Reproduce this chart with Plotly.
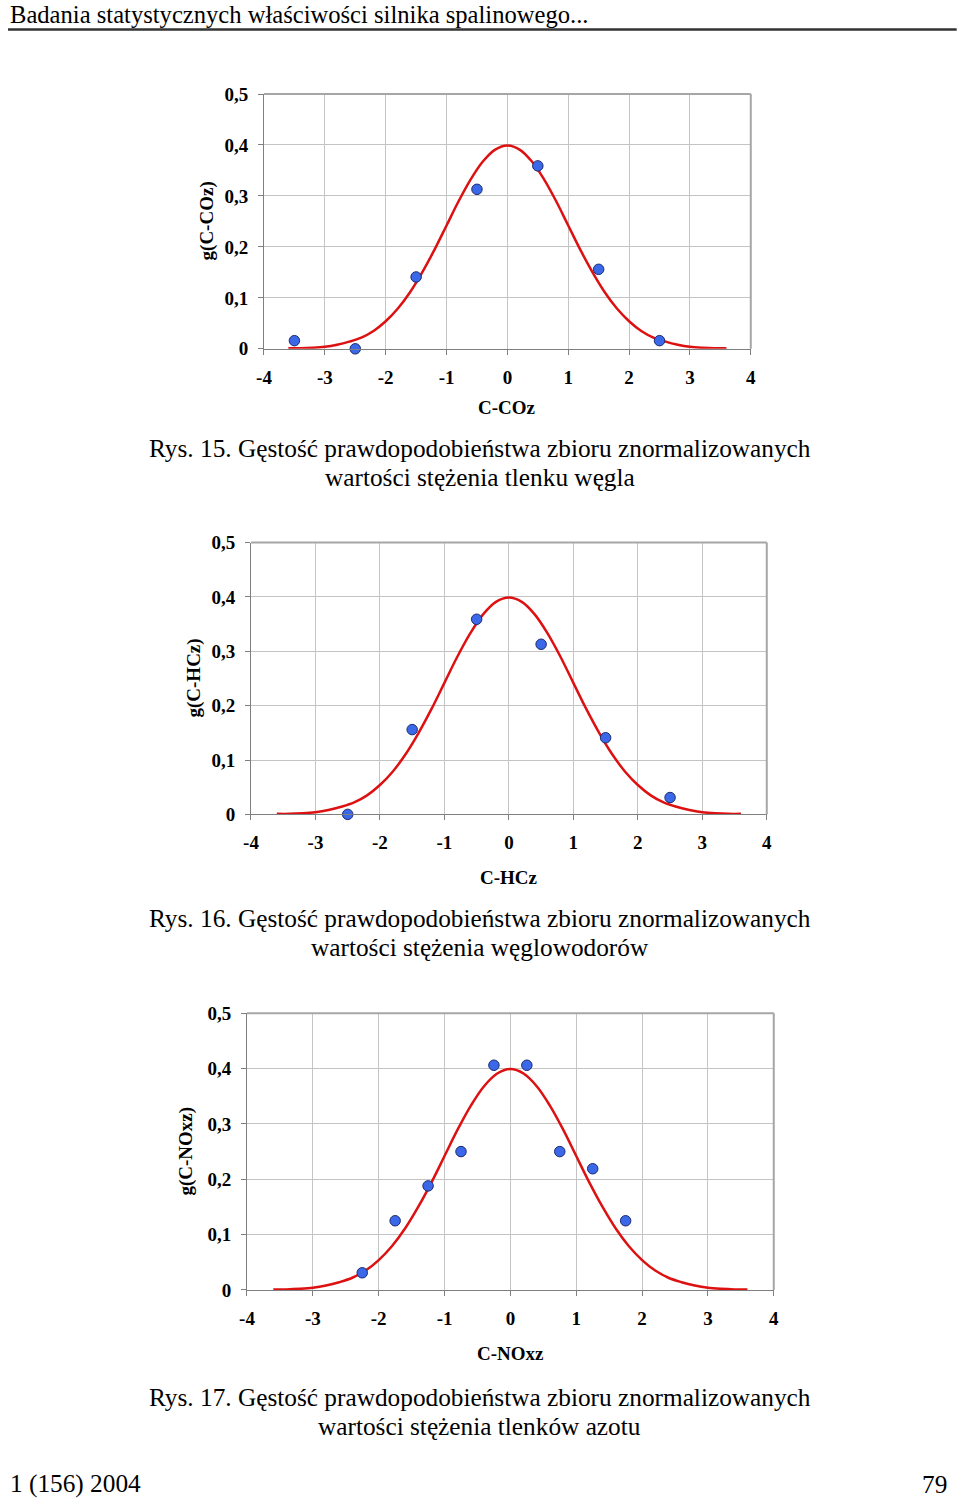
import plotly.graph_objects as go

# Page geometry: the rendered page shows the figure after an 8px body margin and
# a slight uniform down-scale, so reference pixel positions are mapped through that.
S, M = 0.987, 8
W, H = 968, 1512

# ---------------- data ----------------
# fitted standard-normal density curve (same in all three panels)
curve_x = [-3.6, -3.4, -3.2, -3.0, -2.8, -2.6, -2.4, -2.2, -2.0, -1.8, -1.6, -1.4, -1.2, -1.0,
           -0.8, -0.6, -0.4, -0.2, 0.0, 0.2, 0.4, 0.6, 0.8, 1.0, 1.2, 1.4, 1.6, 1.8, 2.0,
           2.2, 2.4, 2.6, 2.8, 3.0, 3.2, 3.4, 3.6]
curve_y = [0.001, 0.001, 0.002, 0.004, 0.008, 0.014, 0.022, 0.035, 0.054, 0.079, 0.111, 0.150,
           0.194, 0.242, 0.290, 0.333, 0.368, 0.391, 0.399, 0.391, 0.368, 0.333, 0.290, 0.242,
           0.194, 0.150, 0.111, 0.079, 0.054, 0.035, 0.022, 0.014, 0.008, 0.004, 0.002, 0.001,
           0.001]

# Rys. 15 – C-COz
co_x = [-3.5, -2.5, -1.5, -0.5, 0.5, 1.5, 2.5]
co_y = [0.016, 0.0, 0.141, 0.313, 0.359, 0.156, 0.016]

# Rys. 16 – C-HCz
hc_x = [-2.5, -1.5, -0.5, 0.5, 1.5, 2.5]
hc_y = [0.0, 0.156, 0.359, 0.313, 0.141, 0.031]

# Rys. 17 – C-NOxz
nox_x = [-2.25, -1.75, -1.25, -0.75, -0.25, 0.25, 0.75, 1.25, 1.75]
nox_y = [0.031, 0.125, 0.188, 0.250, 0.406, 0.406, 0.250, 0.219, 0.125]

x_tickvals = [-4, -3, -2, -1, 0, 1, 2, 3, 4]
x_ticktext = ["-4", "-3", "-2", "-1", "0", "1", "2", "3", "4"]
y_tickvals = [0, 0.1, 0.2, 0.3, 0.4, 0.5]
y_ticktext = ["0", "0,1", "0,2", "0,3", "0,4", "0,5"]

panels = [
    dict(x=co_x, y=co_y, xlabel="C-COz", ylabel="g(C-COz)",
         cap1="Rys. 15. Gęstość prawdopodobieństwa zbioru znormalizowanych",
         cap2="wartości stężenia tlenku węgla"),
    dict(x=hc_x, y=hc_y, xlabel="C-HCz", ylabel="g(C-HCz)",
         cap1="Rys. 16. Gęstość prawdopodobieństwa zbioru znormalizowanych",
         cap2="wartości stężenia węglowodorów"),
    dict(x=nox_x, y=nox_y, xlabel="C-NOxz", ylabel="g(C-NOxz)",
         cap1="Rys. 17. Gęstość prawdopodobieństwa zbioru znormalizowanych",
         cap2="wartości stężenia tlenków azotu"),
]

# ---------------- layout geometry (reference page pixels) ----------------
boxes = [  # left, right, top, bottom
    (264, 751, 92, 347),
    (251, 767, 541, 813),
    (247, 774, 1012, 1289),
]
ylabel_x = [207, 193, 186]
xlabel_y = [406, 876, 1353]
cap_y = [(446, 475), (917, 946), (1396, 1425)]

def px(x):
    return min(1.0, max(0.0, (x / S - M) / W))

def py(y):
    return min(1.0, max(0.0, 1 - (y / S - M) / H))

SERIF = "Liberation Serif, Times New Roman, serif"
RED = "#dd1111"
BLUE = "#3a68e8"
GRID = "#c4c4c4"
AXIS = "#7f7f7f"
TXT = 25.3

fig = go.Figure()
annotations = []
shapes = []

for i, (p, b) in enumerate(zip(panels, boxes)):
    n = "" if i == 0 else str(i + 1)
    xa, ya = "x" + n, "y" + n
    fig.add_trace(go.Scatter(x=curve_x, y=curve_y, mode="lines",
                             line=dict(color=RED, width=2.5, shape="spline"),
                             xaxis=xa, yaxis=ya, showlegend=False, hoverinfo="skip"))
    fig.add_trace(go.Scatter(x=p["x"], y=p["y"], mode="markers",
                             marker=dict(color=BLUE, size=10.5,
                                         line=dict(color="#1c2a6e", width=1)),
                             xaxis=xa, yaxis=ya, showlegend=False, cliponaxis=False))
    l, r, t, btm = b
    common = dict(showgrid=True, gridcolor=GRID, gridwidth=1, zeroline=False,
                  showline=True, linecolor=AXIS, linewidth=1,
                  ticks="outside", ticklen=5, tickcolor=AXIS, tickwidth=1,
                  tickfont=dict(family=SERIF, size=19, color="#000000", weight="bold"))
    fig.update_layout(**{
        "xaxis" + n: dict(domain=[px(l), px(r)], anchor=ya, range=[-4, 4],
                          tickmode="array", tickvals=x_tickvals, ticktext=x_ticktext,
                          ticklabelstandoff=6, **common),
        "yaxis" + n: dict(domain=[py(btm), py(t)], anchor=xa, range=[0, 0.5],
                          tickmode="array", tickvals=y_tickvals, ticktext=y_ticktext,
                          ticklabelstandoff=6, **common),
    })
    # top and right frame lines
    shapes.append(dict(type="line", xref=xa + " domain", yref=ya + " domain",
                       x0=0, x1=1, y0=1, y1=1, line=dict(color="#a6a6a6", width=2)))
    shapes.append(dict(type="line", xref=xa + " domain", yref=ya + " domain",
                       x0=1, x1=1, y0=0, y1=1, line=dict(color="#a6a6a6", width=2)))
    # axis titles
    annotations.append(dict(text="<b>%s</b>" % p["xlabel"], xref="paper", yref="paper",
                            x=px((l + r) / 2), y=py(xlabel_y[i]), showarrow=False,
                            xanchor="center", yanchor="middle",
                            font=dict(family=SERIF, size=19, color="#000000")))
    annotations.append(dict(text="<b>%s</b>" % p["ylabel"], xref="paper", yref="paper",
                            x=px(ylabel_x[i]), y=py((t + btm) / 2), showarrow=False,
                            textangle=-90, xanchor="center", yanchor="middle",
                            font=dict(family=SERIF, size=19, color="#000000")))
    # captions
    for txt, yy in zip((p["cap1"], p["cap2"]), cap_y[i]):
        annotations.append(dict(text=txt, xref="paper", yref="paper",
                                x=px(480), y=py(yy), showarrow=False,
                                xanchor="center", yanchor="middle",
                                font=dict(family=SERIF, size=TXT, color="#000000")))

# page header / footer
annotations.append(dict(text="Badania statystycznych właściwości silnika spalinowego...",
                        xref="paper", yref="paper", x=px(7), y=py(12.3), showarrow=False,
                        xanchor="left", yanchor="middle",
                        font=dict(family=SERIF, size=24.6, color="#000000")))
annotations.append(dict(text="1 (156) 2004", xref="paper", yref="paper", x=px(7), y=py(1483),
                        showarrow=False, xanchor="left", yanchor="middle",
                        font=dict(family=SERIF, size=TXT, color="#000000")))
annotations.append(dict(text="79", xref="paper", yref="paper", x=px(949), y=py(1483),
                        showarrow=False, xanchor="right", yanchor="middle",
                        font=dict(family=SERIF, size=TXT, color="#000000")))
shapes.append(dict(type="line", xref="paper", yref="paper", x0=px(5), x1=px(957),
                   y0=py(27.5), y1=py(27.5), line=dict(color="#333333", width=2.5)))

fig.update_layout(width=W, height=H, margin=dict(l=0, r=0, t=0, b=0),
                  paper_bgcolor="#ffffff", plot_bgcolor="#ffffff",
                  separators=", ", showlegend=False,
                  annotations=annotations, shapes=shapes)

fig.write_html("out.html")
